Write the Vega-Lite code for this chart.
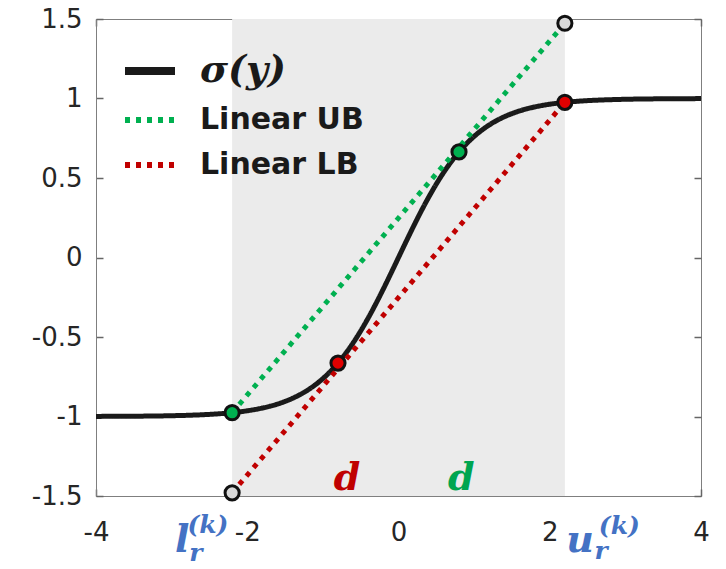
{
  "$schema": "https://vega.github.io/schema/vega-lite/v6.json",
  "width": 605,
  "height": 477,
  "autosize": "none",
  "padding": {"left": 96, "top": 19, "right": 25, "bottom": 73},
  "background": "white",
  "config": {
    "view": {"stroke": "#7f7f7f", "strokeWidth": 1},
    "axis": {
      "grid": false,
      "domainColor": "#7f7f7f",
      "ticks": true,
      "tickColor": "#666666",
      "tickWidth": 1.5,
      "tickSize": -7,
      "labelFlush": false,
      "labelFont": "DejaVu Sans",
      "labelFontSize": 26,
      "labelColor": "#262626",
      "title": null,
      "zindex": 1
    }
  },
  "datasets": {
    "bounds": [{"l": -2.2, "u": 2.2}],
    "lines": [
      {"series": "σ(y)", "x": -4.0, "y": -0.9993},
      {"series": "σ(y)", "x": -3.5, "y": -0.9982},
      {"series": "σ(y)", "x": -3.0, "y": -0.9951},
      {"series": "σ(y)", "x": -2.8, "y": -0.9926},
      {"series": "σ(y)", "x": -2.6, "y": -0.989},
      {"series": "σ(y)", "x": -2.4, "y": -0.9837},
      {"series": "σ(y)", "x": -2.2, "y": -0.9757},
      {"series": "σ(y)", "x": -2.0, "y": -0.964},
      {"series": "σ(y)", "x": -1.9, "y": -0.9562},
      {"series": "σ(y)", "x": -1.8, "y": -0.9468},
      {"series": "σ(y)", "x": -1.7, "y": -0.9354},
      {"series": "σ(y)", "x": -1.6, "y": -0.9217},
      {"series": "σ(y)", "x": -1.5, "y": -0.9051},
      {"series": "σ(y)", "x": -1.4, "y": -0.8854},
      {"series": "σ(y)", "x": -1.3, "y": -0.8617},
      {"series": "σ(y)", "x": -1.2, "y": -0.8337},
      {"series": "σ(y)", "x": -1.1, "y": -0.8005},
      {"series": "σ(y)", "x": -1.0, "y": -0.7616},
      {"series": "σ(y)", "x": -0.9, "y": -0.7163},
      {"series": "σ(y)", "x": -0.8, "y": -0.664},
      {"series": "σ(y)", "x": -0.7, "y": -0.6044},
      {"series": "σ(y)", "x": -0.6, "y": -0.537},
      {"series": "σ(y)", "x": -0.5, "y": -0.4621},
      {"series": "σ(y)", "x": -0.4, "y": -0.3799},
      {"series": "σ(y)", "x": -0.3, "y": -0.2913},
      {"series": "σ(y)", "x": -0.2, "y": -0.1974},
      {"series": "σ(y)", "x": -0.1, "y": -0.0997},
      {"series": "σ(y)", "x": 0.0, "y": 0.0},
      {"series": "σ(y)", "x": 0.1, "y": 0.0997},
      {"series": "σ(y)", "x": 0.2, "y": 0.1974},
      {"series": "σ(y)", "x": 0.3, "y": 0.2913},
      {"series": "σ(y)", "x": 0.4, "y": 0.3799},
      {"series": "σ(y)", "x": 0.5, "y": 0.4621},
      {"series": "σ(y)", "x": 0.6, "y": 0.537},
      {"series": "σ(y)", "x": 0.7, "y": 0.6044},
      {"series": "σ(y)", "x": 0.8, "y": 0.664},
      {"series": "σ(y)", "x": 0.9, "y": 0.7163},
      {"series": "σ(y)", "x": 1.0, "y": 0.7616},
      {"series": "σ(y)", "x": 1.1, "y": 0.8005},
      {"series": "σ(y)", "x": 1.2, "y": 0.8337},
      {"series": "σ(y)", "x": 1.3, "y": 0.8617},
      {"series": "σ(y)", "x": 1.4, "y": 0.8854},
      {"series": "σ(y)", "x": 1.5, "y": 0.9051},
      {"series": "σ(y)", "x": 1.6, "y": 0.9217},
      {"series": "σ(y)", "x": 1.7, "y": 0.9354},
      {"series": "σ(y)", "x": 1.8, "y": 0.9468},
      {"series": "σ(y)", "x": 1.9, "y": 0.9562},
      {"series": "σ(y)", "x": 2.0, "y": 0.964},
      {"series": "σ(y)", "x": 2.2, "y": 0.9757},
      {"series": "σ(y)", "x": 2.4, "y": 0.9837},
      {"series": "σ(y)", "x": 2.6, "y": 0.989},
      {"series": "σ(y)", "x": 2.8, "y": 0.9926},
      {"series": "σ(y)", "x": 3.0, "y": 0.9951},
      {"series": "σ(y)", "x": 3.5, "y": 0.9982},
      {"series": "σ(y)", "x": 4.0, "y": 0.9993},
      {"series": "Linear UB", "x": -2.2, "y": -0.976},
      {"series": "Linear UB", "x": 2.2, "y": 1.473},
      {"series": "Linear LB", "x": -2.2, "y": -1.48},
      {"series": "Linear LB", "x": 2.2, "y": 0.976}
    ],
    "points": [
      {"x": -2.2, "y": -1.48, "kind": "end"},
      {"x": 2.2, "y": 1.473, "kind": "end"},
      {"x": -2.2, "y": -0.976, "kind": "UB"},
      {"x": 0.8, "y": 0.664, "kind": "UB"},
      {"x": -0.8, "y": -0.664, "kind": "LB"},
      {"x": 2.2, "y": 0.976, "kind": "LB"}
    ]
  },
  "resolve": {"axis": {"x": "independent", "y": "independent"}},
  "layer": [
    {
      "data": {"name": "bounds"},
      "mark": {"type": "rect", "color": "#ebebeb"},
      "encoding": {
        "x": {"field": "l", "type": "quantitative", "scale": {"domain": [-4, 4], "nice": false},
          "axis": {"orient": "top", "labels": false, "values": [-4, -2, 0, 2, 4], "tickSize": -7, "domain": false}},
        "x2": {"field": "u"}
      }
    },
    {
      "data": {"name": "lines"},
      "mark": {"type": "line", "strokeWidth": 5, "strokeCap": "butt", "interpolate": "monotone"},
      "encoding": {
        "x": {"field": "x", "type": "quantitative", "scale": {"domain": [-4, 4], "nice": false},
          "axis": {"orient": "bottom", "values": [-4, -2, 0, 2, 4], "tickSize": -7, "labelPadding": 30, "labelExpr": "'' + datum.value"}},
        "y": {"field": "y", "type": "quantitative", "scale": {"domain": [-1.5, 1.5], "nice": false},
          "axis": {"orient": "left", "values": [-1.5, -1, -0.5, 0, 0.5, 1, 1.5], "tickSize": -7, "labelPadding": 21, "labelExpr": "'' + datum.value"}},
        "color": {"field": "series", "type": "nominal",
          "scale": {"domain": ["σ(y)", "Linear UB", "Linear LB"], "range": ["#1a1a1a", "#00b050", "#c00000"]},
          "legend": {
            "orient": "none", "legendX": 39, "legendY": 37, "title": null,
            "symbolType": "stroke", "symbolSize": 2500, "symbolStrokeWidth": 6,
            "labelFont": "DejaVu Sans", "labelFontWeight": "bold", "labelFontSize": 30, "labelColor": "#1a1a1a",
            "labelOffset": 35, "rowPadding": 15, "labelLimit": 400,
            "encode": {
              "labels": {"update": {
                "font": {"signal": "datum.value == 'σ(y)' ? 'DejaVu Serif' : 'DejaVu Sans'"},
                "fontStyle": {"signal": "datum.value == 'σ(y)' ? 'italic' : 'normal'"},
                "fontSize": {"signal": "datum.value == 'σ(y)' ? 38 : 30"}
              }},
              "symbols": {"update": {
                "strokeDash": {"signal": "datum.value == 'σ(y)' ? [1, 0] : [8, 7]"},
                "strokeWidth": {"signal": "datum.value == 'σ(y)' ? 8 : 6"}
              }}
            }
          }},
        "strokeDash": {"field": "series", "type": "nominal",
          "scale": {"domain": ["σ(y)", "Linear UB", "Linear LB"], "range": [[1, 0], [5, 6], [5, 6]]},
          "legend": null}
      }
    },
    {
      "data": {"name": "points"},
      "mark": {"type": "point", "shape": "circle", "filled": true, "size": 200, "stroke": "#111111", "strokeWidth": 3, "opacity": 1},
      "encoding": {
        "x": {"field": "x", "type": "quantitative", "axis": null},
        "y": {"field": "y", "type": "quantitative",
          "axis": {"orient": "right", "labels": false, "values": [-1.5, -1, -0.5, 0, 0.5, 1, 1.5], "tickSize": -7, "domain": false}},
        "fill": {"field": "kind", "type": "nominal",
          "scale": {"domain": ["end", "UB", "LB"], "range": ["#d9d9d9", "#00b050", "#e00000"]}, "legend": null}
      }
    },
    {
      "data": {"values": [{"t": "d", "x": -0.68, "y": -1.39}]},
      "mark": {"type": "text", "font": "DejaVu Serif", "fontStyle": "italic", "fontWeight": "bold", "fontSize": 38, "color": "#c00000", "baseline": "middle", "align": "center"},
      "encoding": {"text": {"field": "t"}, "x": {"field": "x", "type": "quantitative", "axis": null}, "y": {"field": "y", "type": "quantitative", "axis": null}}
    },
    {
      "data": {"values": [{"t": "d", "x": 0.83, "y": -1.39}]},
      "mark": {"type": "text", "font": "DejaVu Serif", "fontStyle": "italic", "fontWeight": "bold", "fontSize": 38, "color": "#00a550", "baseline": "middle", "align": "center"},
      "encoding": {"text": {"field": "t"}, "x": {"field": "x", "type": "quantitative", "axis": null}, "y": {"field": "y", "type": "quantitative", "axis": null}}
    },
    {
      "data": {"values": [{"t": "l", "x": -2.86, "y": -1.78}, {"t": "u", "x": 2.4, "y": -1.78}]},
      "mark": {"type": "text", "font": "DejaVu Serif", "fontStyle": "italic", "fontWeight": "bold", "fontSize": 38, "color": "#4472c4", "baseline": "middle", "align": "center"},
      "encoding": {"text": {"field": "t"}, "x": {"field": "x", "type": "quantitative", "axis": null}, "y": {"field": "y", "type": "quantitative", "axis": null}}
    },
    {
      "data": {"values": [{"t": "(k)", "x": -2.52, "y": -1.68}, {"t": "r", "x": -2.68, "y": -1.858}, {"t": "(k)", "x": 2.92, "y": -1.69}, {"t": "r", "x": 2.68, "y": -1.846}]},
      "mark": {"type": "text", "font": "DejaVu Serif", "fontStyle": "italic", "fontWeight": "bold", "fontSize": 25, "color": "#4472c4", "baseline": "middle", "align": "center"},
      "encoding": {"text": {"field": "t"}, "x": {"field": "x", "type": "quantitative", "axis": null}, "y": {"field": "y", "type": "quantitative", "axis": null}}
    }
  ]
}
